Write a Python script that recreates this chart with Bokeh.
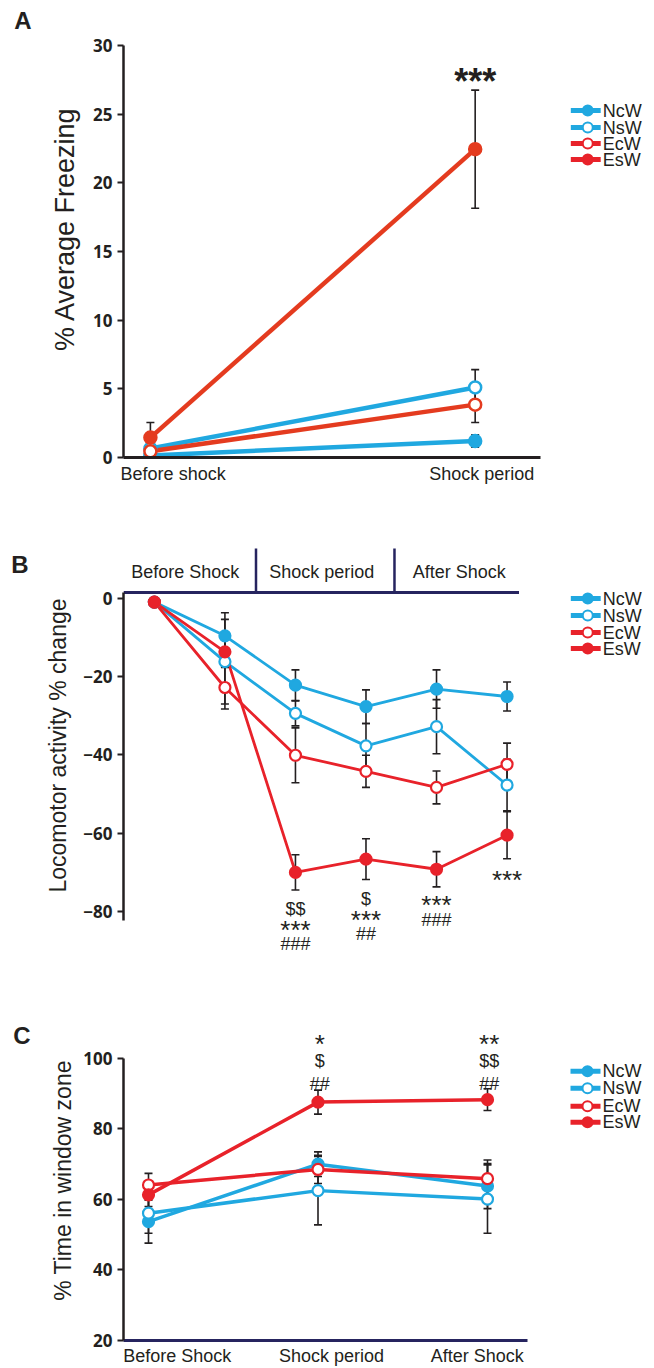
from bokeh.plotting import figure
from bokeh.layouts import column
from bokeh.models import FixedTicker, Range1d, LinearAxis
from bokeh.core.properties import value
from bokeh.embed import file_html
from bokeh.resources import INLINE

# ------------------------------------------------------------------ data
SERIES = ["NcW", "NsW", "EcW", "EsW"]
OPEN_MARKER = [False, True, True, False]

# Panel A: % average freezing
A_X = [0, 1]
A_LABELS = ["Before shock", "Shock period"]
A_NCW = [0.15, 1.2]
A_NCW_ERR = [0.1, 0.45]
A_NSW = [0.65, 5.1]
A_NSW_ERR = [0.3, 1.3]
A_ECW = [0.45, 3.85]
A_ECW_ERR = [0.2, 1.3]
A_ESW = [1.45, 22.45]
A_ESW_ERR = [1.1, 4.3]
A_TICKS = [0, 5, 10, 15, 20, 25, 30]
A_SIG = "***"

# Panel B: locomotor activity % change
B_X = [1, 2, 3, 4, 5, 6]
B_HEADERS = ["Before Shock", "Shock period", "After Shock"]
B_NCW = [-1, -9.6, -22.2, -27.7, -23.2, -25.1]
B_NCW_ERR = [0.5, 5.9, 3.9, 4.3, 4.9, 3.7]
B_NSW = [-1, -16.2, -29.4, -37.7, -32.8, -47.7]
B_NSW_ERR = [0.5, 10.8, 3.2, 5.7, 6.9, 6.6]
B_ECW = [-1, -22.8, -40.1, -44.2, -48.3, -42.4]
B_ECW_ERR = [0.5, 5.5, 7.0, 4.1, 4.2, 5.4]
B_ESW = [-1, -13.7, -70.0, -66.6, -69.2, -60.5]
B_ESW_ERR = [0.5, 4.0, 4.5, 5.2, 4.5, 6.0]
B_TICKS = [0, -20, -40, -60, -80]
B_SIG = [[], [], ["$$", "***", "###"], ["$", "***", "##"], ["***", "###"], ["***"]]

# Panel C: % time in window zone
C_X = [0, 1, 2]
C_LABELS = ["Before Shock", "Shock period", "After Shock"]
C_NCW = [53.7, 70.0, 63.8]
C_NCW_ERR = [6.1, 3.5, 6.4]
C_NSW = [56.1, 62.5, 60.1]
C_NSW_ERR = [5.7, 9.7, 9.7]
C_ECW = [64.1, 68.5, 65.9]
C_ECW_ERR = [3.3, 4.0, 5.3]
C_ESW = [61.3, 87.6, 88.3]
C_ESW_ERR = [3.3, 3.4, 3.1]
C_TICKS = [20, 40, 60, 80, 100]
C_SIG = [[], ["*", "$", "##"], ["**", "$$", "##"]]

# ------------------------------------------------------------------ style
BLUE = "#20a8e0"
RED = "#e8222a"
RED_A = "#e43b1f"
NAVY = "#26245f"
INK = "#231f20"
SANS = "Liberation Sans"
TICKFONT = "Open Sans"
W = 654


def base_figure(height, left, top, bottom, xr, yr, xaxis=True):
    p = figure(width=W, height=height, output_backend="svg", toolbar_location=None,
               x_range=Range1d(*xr), y_range=Range1d(*yr),
               min_border_left=left, min_border_right=0, min_border_top=top,
               min_border_bottom=bottom,
               x_axis_location="below" if xaxis else None)
    p.outline_line_color = None
    p.grid.visible = False
    p.background_fill_color = "white"
    p.border_fill_color = "white"
    return p


def style_left(p, bounds, ticks, label, label_size, standoff):
    ax = p.yaxis[0]
    ax.bounds = bounds
    ax.ticker = FixedTicker(ticks=ticks)
    ax.minor_tick_line_color = None
    ax.major_tick_out = 6
    ax.major_tick_in = 0
    ax.axis_line_width = 2.5
    ax.axis_line_color = INK
    ax.major_tick_line_width = 2
    ax.major_tick_line_color = INK
    ax.major_label_text_font = TICKFONT
    ax.major_label_text_font_style = "bold"
    ax.major_label_text_font_size = "17px"
    ax.major_label_text_color = INK
    ax.major_label_standoff = 5
    ax.axis_label = label
    ax.axis_label_text_font = SANS
    ax.axis_label_text_font_style = "normal"
    ax.axis_label_text_font_size = label_size
    ax.axis_label_text_color = INK
    ax.axis_label_standoff = standoff


def letter_axis(p, y, t, standoff):
    ty = round(y, 4)
    ax = LinearAxis(ticker=FixedTicker(ticks=[ty]), major_label_overrides={ty: t})
    ax.axis_line_color = None
    ax.major_tick_line_color = None
    ax.minor_tick_line_color = None
    ax.major_tick_out = 0
    ax.major_tick_in = 0
    ax.major_label_standoff = standoff
    ax.major_label_text_font = SANS
    ax.major_label_text_font_style = "bold"
    ax.major_label_text_font_size = "24px"
    ax.major_label_text_color = INK
    p.add_layout(ax, "left")


def style_bottom(p, bounds, ticks, labels, color, size, standoff):
    ax = p.xaxis[0]
    ax.bounds = bounds
    ax.ticker = FixedTicker(ticks=ticks)
    ax.major_label_overrides = dict(zip(ticks, labels))
    ax.minor_tick_line_color = None
    ax.major_tick_line_color = None
    ax.major_tick_out = 0
    ax.major_tick_in = 0
    ax.axis_line_width = 3
    ax.axis_line_color = color
    ax.major_label_text_font = SANS
    ax.major_label_text_font_size = size
    ax.major_label_text_color = INK
    ax.major_label_standoff = standoff


def draw_series(p, xs, groups, lw, size, olw):
    for ys, errs, color, op in groups:
        p.line(xs, ys, line_color=color, line_width=lw)
    for ys, errs, color, op in groups:
        lo = [y - e for y, e in zip(ys, errs)]
        hi = [y + e for y, e in zip(ys, errs)]
        p.segment(xs, lo, xs, hi, line_color=INK, line_width=1.6)
        p.scatter(xs, lo, marker="dash", size=8, line_color=INK, line_width=1.6)
        p.scatter(xs, hi, marker="dash", size=8, line_color=INK, line_width=1.6)
    for ys, errs, color, op in groups:
        p.scatter(xs, ys, size=size, fill_color="white" if op else color,
                  line_color=color, line_width=olw)


def draw_legend(p, fx, fy, rows_px, colors):
    for name, op, color, ry in zip(SERIES, OPEN_MARKER, colors, rows_px):
        y = fy(ry)
        p.segment([fx(570)], [y], [fx(600)], [y], line_color=color, line_width=5)
        p.scatter([fx(587)], [y], size=10, fill_color="white" if op else color,
                  line_color=color, line_width=2)
        p.text([fx(602)], [y], text=[name], text_baseline="middle", text_align="left",
               text_font=value(SANS), text_font_size="18px", text_color=INK)


def sig_text(p, x, y_center_px, fy, t, size=None, bold=False):
    if size is None:
        size = 26 if "*" in t else 18
    p.text([x], [fy(y_center_px + 0.35 * size)], text=[t], text_align="center",
           text_baseline="alphabetic", text_font=value(SANS), text_font_size=f"{size}px",
           text_font_style="bold" if bold else "normal", text_color=INK)


# ------------------------------------------------------------------ panel A  (page y 0..495)
def xa(px):
    return (px - 148) / 326.0


def ya(py):
    return (457 - py) / (412 / 30.0)


pa = base_figure(495, 121, 0, 38, (xa(121), xa(W)), (0, ya(0)))
style_left(pa, (0, 30), A_TICKS, "% Average Freezing", "27px", 10)
letter_axis(pa, ya(20), "A", 16)
style_bottom(pa, (xa(121), xa(540)), [0.07, 1.02], A_LABELS, INK, "18px", 6)
draw_series(pa, A_X, [
    (A_NCW, A_NCW_ERR, BLUE, False),
    (A_NSW, A_NSW_ERR, BLUE, True),
    (A_ECW, A_ECW_ERR, RED_A, True),
    (A_ESW, A_ESW_ERR, RED_A, False),
], lw=4.5, size=12, olw=2.5)
sig_text(pa, A_X[1], 68, ya, A_SIG, size=36, bold=True)
draw_legend(pa, xa, ya, [110, 127, 143, 159], [BLUE, BLUE, RED, RED])

# ------------------------------------------------------------------ panel B  (page y 495..975)
def xb(px):
    return 1 + (px - 152) / 70.8


def yb(py):
    return -(py - 597.7) / 3.917


pb = base_figure(480, 121, 45, 25, (xb(121), xb(W)), (yb(950), yb(540)), xaxis=False)
style_left(pb, (yb(920), yb(592)), B_TICKS, "Locomotor activity % change", "23px", 9)
letter_axis(pb, yb(564), "B", 14)
# period header
pb.segment([xb(121)], [yb(592)], [xb(518)], [yb(592)], line_color=NAVY, line_width=3)
pb.segment([xb(254), xb(393)], [yb(592)] * 2, [xb(254), xb(393)], [yb(548)] * 2,
           line_color=NAVY, line_width=2.5)
pb.text([xb(183), xb(320), xb(458)], [yb(571)] * 3, text=B_HEADERS, text_align="center",
        text_baseline="middle", text_font=value(SANS), text_font_size="18px", text_color=INK)
draw_series(pb, B_X, [
    (B_NCW, B_NCW_ERR, BLUE, False),
    (B_NSW, B_NSW_ERR, BLUE, True),
    (B_ECW, B_ECW_ERR, RED, True),
    (B_ESW, B_ESW_ERR, RED, False),
], lw=2.8, size=11, olw=2.2)

b_rows = {3: [902, 920, 937], 4: [892, 910, 927], 5: [895, 913], 6: [870]}
for x, marks in zip(B_X, B_SIG):
    for t, r in zip(marks, b_rows.get(x, [])):
        sig_text(pb, x, r, yb, t)
draw_legend(pb, xb, yb, [598, 615, 632, 648], [BLUE, BLUE, RED, RED])

# ------------------------------------------------------------------ panel C  (page y 975..1368)
def xc(px):
    return (px - 148) / 169.5


def yc(py):
    return 100 - (py - 1058) / 3.5375


pc = base_figure(393, 123, 45, 27, (xc(123), xc(W)), (yc(1341), yc(1020)))
style_left(pc, (20, 100), C_TICKS, "% Time in window zone", "23px", 4)
letter_axis(pc, yc(1035), "C", 17)
style_bottom(pc, (xc(123), xc(527)), [0.17, 1.08, 1.94], C_LABELS, NAVY, "18px", 5)
draw_series(pc, C_X, [
    (C_NCW, C_NCW_ERR, BLUE, False),
    (C_NSW, C_NSW_ERR, BLUE, True),
    (C_ECW, C_ECW_ERR, RED, True),
    (C_ESW, C_ESW_ERR, RED, False),
], lw=3.5, size=11, olw=2.2)
c_rows = [1034, 1054, 1077]
for x, marks in zip(C_X, C_SIG):
    for t, r in zip(marks, c_rows):
        sig_text(pc, x + 0.01, r, yc, t)
draw_legend(pc, xc, yc, [1071, 1088, 1106, 1122], [BLUE, BLUE, RED, RED])

layout = column(pa, pb, pc, spacing=0)
open("out.html", "w").write(file_html(layout, INLINE))
